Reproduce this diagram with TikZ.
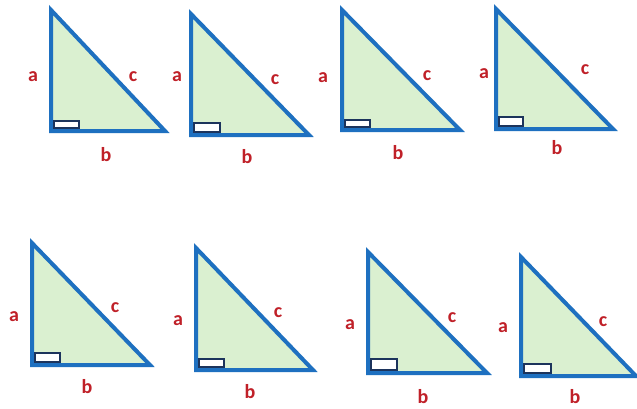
\documentclass[tikz,border=0pt]{standalone}
\usepackage{fontspec}
\setmainfont{Carlito}
\definecolor{triblue}{RGB}{30,112,192}
\definecolor{trifill}{RGB}{218,240,208}
\definecolor{labred}{RGB}{192,32,40}
\definecolor{boxnavy}{RGB}{28,52,92}
\tikzset{
  tri/.style={draw=triblue, fill=trifill, line width=4pt, line join=miter},
  rabox/.style={draw=boxnavy, fill=white, line width=1.6pt},
  lab/.style={text=labred, font=\bfseries\fontsize{20}{20}\selectfont, inner sep=0pt, anchor=center}
}
\begin{document}
\begin{tikzpicture}[x=1pt,y=-1pt]
\useasboundingbox[fill=white] (0,0) rectangle (637,408);
\foreach \xl/\yt/\yb/\xr/\bxr/\byt/\ax/\ay/\cx/\cy/\bbx/\bby [count=\i] in {
  51/10/131/165/79/121/33/77/133/77/106/155,
  191/14/135/309/220/123/177/77/275/80/247/157,
  342/10/130/460/370/120/323/78/427/76/398/153,
  496/9/129/613/523/117/484/74/585/70/557/148,
  32/243/365/150/60/353/14/317/115/308/87/387,
  196/248/370/313/224/359/178/321/278/313/250/392,
  368/252/373/487/397/359/350/325/452/318/423/397,
  521/257/376/636/551/364/503/328/603/322/575/397}
{
  \draw[tri] (\xl,\yt) -- (\xl,\yb) -- (\xr,\yb) -- cycle;
  \draw[rabox] (\xl+2.8,\yb-2.8) rectangle (\bxr,\byt);
  \node[lab] (a\i) at (\ax,\ay) {a};
  \node[lab] (c\i) at (\cx,\cy) {c};
  \node[lab] (b\i) at (\bbx,\bby) {b};
}
\end{tikzpicture}
\end{document}
